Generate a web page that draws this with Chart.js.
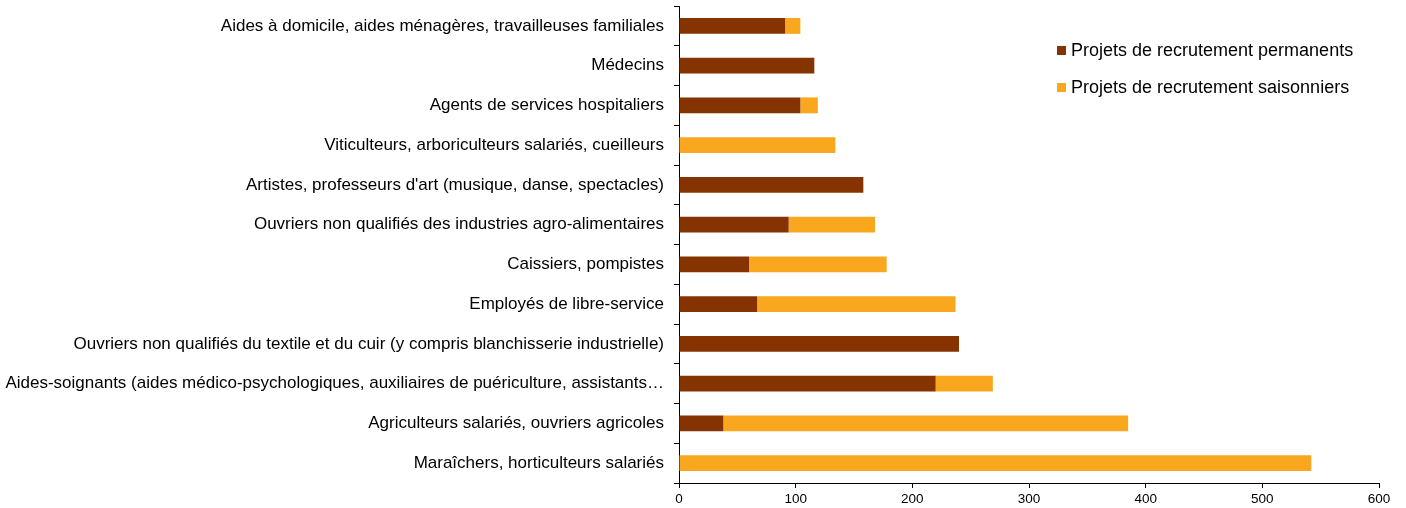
<!DOCTYPE html>
<html>
<head>
<meta charset="utf-8">
<script src="https://cdn.jsdelivr.net/npm/chart.js@4/dist/chart.umd.min.js"></script>
<style>
  html, body { margin: 0; padding: 0; background: #fff; }
  #wrap { position: relative; width: 1406px; height: 508px; }
  #legend { position: absolute; left: 1057px; top: 37px; font-family: "Liberation Sans", Arial, sans-serif; font-size: 18px; color: #000; }
  #legend div { height: 37px; line-height: 26px; white-space: nowrap; }
  #legend span.box { display: inline-block; width: 9px; height: 9px; margin-right: 5px; vertical-align: 1px; }
</style>
</head>
<body>
<div id="wrap">
  <canvas id="my-graph" width="1406" height="508"></canvas>
  <div id="legend"></div>
</div>
<script>
const categories = [
    "Aides à domicile, aides ménagères, travailleuses familiales",
    "Médecins",
    "Agents de services hospitaliers",
    "Viticulteurs, arboriculteurs salariés, cueilleurs",
    "Artistes, professeurs d'art (musique, danse, spectacles)",
    "Ouvriers non qualifiés des industries agro-alimentaires",
    "Caissiers, pompistes",
    "Employés de libre-service",
    "Ouvriers non qualifiés du textile et du cuir (y compris blanchisserie industrielle)",
    "Aides-soignants (aides médico-psychologiques, auxiliaires de puériculture, assistants…",
    "Agriculteurs salariés, ouvriers agricoles",
    "Maraîchers, horticulteurs salariés"
];
const permanents = [91, 116, 104, 0, 158, 94, 60, 67, 240, 220, 38, 0];
const saisonniers = [13, 0, 15, 134, 0, 74, 118, 170, 0, 49, 347, 542];
const x_ticks = [0, 100, 200, 300, 400, 500, 600];

const color_perm = "#853300";
const color_seas = "#F9A71E";

const my_chart = new Chart("my-graph", {
    type: "bar",
    data: {
        labels: categories,
        datasets: [{
            label: "Projets de recrutement permanents",
            data: permanents,
            backgroundColor: color_perm
        }, {
            label: "Projets de recrutement saisonniers",
            data: saisonniers,
            backgroundColor: color_seas
        }]
    },
    options: {
        indexAxis: "y",
        responsive: false,
        animation: false,
        devicePixelRatio: 1,
        layout: { padding: { top: 6, right: 27, bottom: 0, left: 0 } },
        datasets: { bar: { categoryPercentage: 1, barPercentage: 0.4 } },
        plugins: {
            legend: { display: false },
            tooltip: { enabled: false }
        },
        scales: {
            x: {
                stacked: true,
                min: 0,
                max: 600,
                afterBuildTicks: (scale) => { scale.ticks = x_ticks.map(v => ({ value: v })); },
                afterFit: (scale) => { scale.height = 25; scale.paddingLeft = 0; scale.paddingRight = 0; },
                ticks: {
                    color: "#000",
                    padding: 3,
                    maxRotation: 0,
                    font: { family: "'Liberation Sans', Arial", size: 13.5 }
                },
                grid: { drawOnChartArea: false, drawTicks: true, tickLength: 5, color: "#000" },
                border: { color: "#000", width: 1 }
            },
            y: {
                stacked: true,
                afterFit: (scale) => { scale.width = 679; scale.paddingTop = 0; scale.paddingBottom = 0; },
                ticks: {
                    color: "#000",
                    padding: 10,
                    autoSkip: false,
                    font: { family: "'Liberation Sans', Arial", size: 17 }
                },
                grid: { offset: true, drawOnChartArea: false, drawTicks: true, tickLength: 5, color: "#000" },
                border: { color: "#000", width: 1 }
            }
        }
    }
});

// HTML legend built from the datasets
const legend = document.getElementById("legend");
my_chart.data.datasets.forEach((ds) => {
    const row = document.createElement("div");
    const box = document.createElement("span");
    box.className = "box";
    box.style.background = ds.backgroundColor;
    row.appendChild(box);
    row.appendChild(document.createTextNode(ds.label));
    legend.appendChild(row);
});
</script>
</body>
</html>
